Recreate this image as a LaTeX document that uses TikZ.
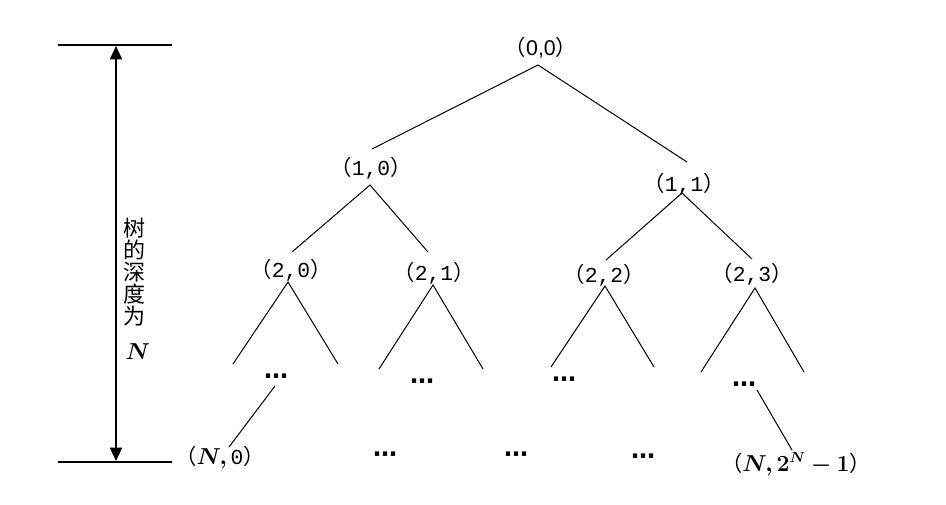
\documentclass[tikz,border=0pt]{standalone}
\usepackage{bm}
\usepackage{fontspec}
\usetikzlibrary{arrows.meta}
\newfontfamily\cjk{Noto Sans CJK SC}
\newfontfamily\monof{Liberation Mono}
\newfontfamily\sansf{Liberation Sans}
\newfontfamily\dejavu{DejaVu Sans}
\newcommand\pairlab[2]{{\cjk （}{\monof #1,#2}{\cjk ）}}
\begin{document}
\begin{tikzpicture}[x=0.75pt,y=-0.75pt,
  lab/.style={inner sep=0pt,font=\fontsize{16}{18}\selectfont},
  edge/.style={line width=0.75pt},
  bar/.style={line width=1.5pt},
  dotlab/.style={inner sep=0pt,font=\dejavu\bfseries\fontsize{18}{20}\selectfont}]
\useasboundingbox (0,0) rectangle (946,504);
% depth marker
\coordinate (tl) at (58,45); \coordinate (tr) at (172,45);
\coordinate (bl) at (58,462); \coordinate (br) at (172,462);
\draw[bar] (tl) -- (tr);
\draw[bar] (bl) -- (br);
\coordinate (at) at (116,46); \coordinate (ab) at (116,461);
\draw[bar,{Triangle[length=10pt,width=9pt]}-{Triangle[length=10pt,width=9pt]}] (at) -- (ab);
\node[inner sep=0pt,font=\cjk\fontsize{16.5}{16.5}\selectfont,align=center] (depth) at (134,272) {树\\的\\深\\度\\为};
\node[lab] (dn) at (138,352) {$\bm{N}$};
% tree labels
\node[lab] (n00) at (541,48) {{\cjk （}{\sansf 0,0}{\cjk ）}};
\node[lab] (n10) at (371,168) {\pairlab{1}{0}};
\node[lab] (n11) at (684,184) {\pairlab{1}{1}};
\node[lab] (n20) at (291,270) {\pairlab{2}{0}};
\node[lab] (n21) at (434,273) {\pairlab{2}{1}};
\node[lab] (n22) at (604,275) {\pairlab{2}{2}};
\node[lab] (n23) at (752,274) {\pairlab{2}{3}};
\node[dotlab] (d30) at (276,379) {⋯};
\node[dotlab] (d31) at (422,384) {⋯};
\node[dotlab] (d32) at (564,382) {⋯};
\node[dotlab] (d33) at (744,387) {⋯};
\node[lab] (nN0) at (220,458) {{\cjk （}$\bm{N,}$\,{\monof 0}{\cjk ）}};
\node[dotlab] (b1) at (385,457) {⋯};
\node[dotlab] (b2) at (516,457) {⋯};
\node[dotlab] (b3) at (643,459) {⋯};
\node[lab] (nNl) at (796,464) {{\cjk （}$\bm{N,2^N-1}${\cjk ）}};
% edge points
\coordinate (a00) at (538,65); \coordinate (t10) at (372,149); \coordinate (t11) at (687,162);
\coordinate (a10) at (370,185); \coordinate (t20) at (292,252); \coordinate (t21) at (428,252);
\coordinate (a11) at (682,193); \coordinate (t22) at (606,260); \coordinate (t23) at (752,259);
\coordinate (a20) at (288,282); \coordinate (l20) at (233,364); \coordinate (r20) at (338,364);
\coordinate (a21) at (433,285); \coordinate (l21) at (379,369); \coordinate (r21) at (483,369);
\coordinate (a22) at (605,286); \coordinate (l22) at (551,367); \coordinate (r22) at (654,367);
\coordinate (a23) at (755,288); \coordinate (l23) at (701,372); \coordinate (r23) at (804,372);
\coordinate (s30) at (275,386); \coordinate (e30) at (229,447);
\coordinate (s33) at (757,390); \coordinate (e33) at (792,450);
\draw[edge] (t10) -- (a00) -- (t11);
\draw[edge] (t20) -- (a10) -- (t21);
\draw[edge] (t22) -- (a11) -- (t23);
\draw[edge] (l20) -- (a20) -- (r20);
\draw[edge] (l21) -- (a21) -- (r21);
\draw[edge] (l22) -- (a22) -- (r22);
\draw[edge] (l23) -- (a23) -- (r23);
\draw[edge] (s30) -- (e30);
\draw[edge] (s33) -- (e33);
\end{tikzpicture}
\end{document}
